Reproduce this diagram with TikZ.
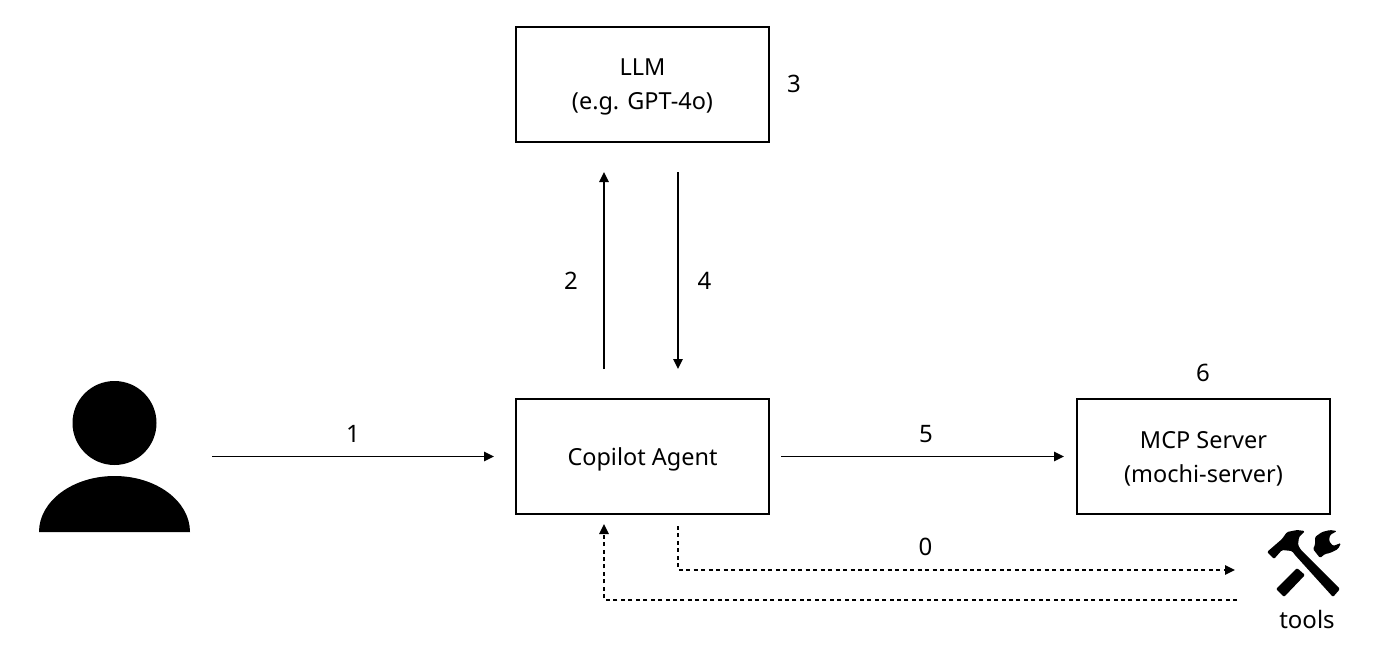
\documentclass[tikz,border=0pt]{standalone}
\usepackage{fontspec}
\setmainfont{Noto Sans}
\usetikzlibrary{arrows.meta,positioning}
\tikzset{
    every picture/.style={
        x=.75pt,y=-.75pt,line width=1.5pt,
        >={Triangle[length=7.5pt,width=7pt]},
        box/.style={draw,minimum width=189.75pt,minimum height=86.25pt,align=center,outer sep=0pt,inner sep=0pt,text depth=0pt,font=\fontsize{17.6}{25.5}\selectfont},
        num/.style={inner sep=0pt,font=\fontsize{18}{20}\selectfont},
        icon/.style={minimum width=55.5pt,minimum height=52.5pt,inner sep=0pt,outer sep=0pt},
        user/.style={minimum size=113.25pt,inner sep=0pt,outer sep=0pt},
        flow/.style={->,line width=1.35pt},
        back/.style={flow,dash pattern=on 3pt off 2.6pt}
    }
}

\begin{document}
\begin{tikzpicture}
    \useasboundingbox (0,0) rectangle (1390,665);
    \node[box]     (agent) at (642.5,456.5) {Copilot Agent};
    \node[box]     (llm)   [above=192.75pt of agent] {LLM\\(e.g. GPT-4o)};
    \node[box]     (mcp)   [right=231pt of agent] {MCP Server\\(mochi-server)};
    \node[user]    (person) at (114.5,456.5) {};
    \node[icon]    (hammer) at (1304,562) {};
    \node[num]     (tools) at (1307,619) {tools};
    \node[num]     (three) at (794,84) {3};
    \node[num]     (six)   at (1203,373) {6};
    % person
    \fill (114.5,423) circle (31.5pt);
    \fill (39,532) arc[start angle=180,end angle=0,x radius=75.5,y radius=-56] -- cycle;
    % hammer and wrench
    \fill[rounded corners=1pt] (1267,552) -- (1282,539) -- (1287,532) -- (1297,530) -- (1305,531) -- (1299,537) -- (1298,545) -- (1301,550) -- (1340,589) -- (1333,597) -- (1295,555) -- (1292,551) -- (1282,550) -- (1274,559) -- cycle;
    \fill[rounded corners=1pt] (1276,589) -- (1297,568) -- (1305,575) -- (1284,597) -- cycle;
    \fill[rounded corners=1pt] (1337,531) -- (1330,535) -- (1329,541) -- (1333,546) -- (1341,543) -- (1338,549) -- (1330,553) -- (1325,554) -- (1320,558) -- (1313,549) -- (1315,545) -- (1315,537) -- (1322,532) -- (1330,530) -- cycle;
    % connectors
    \path[flow,shorten <=16.5pt,shorten >=16.5pt]
             (person) edge node[num,above=10pt] {1} (agent);
    \path[flow,shorten <=9pt,shorten >=9.75pt]
             (agent) edge node[num,above=10pt,pos=.51] {5} (mcp);
    \path[flow,shorten <=22.5pt,shorten >=22.5pt]
             ([xshift=-28.875pt]agent.north) edge node[num,left=19pt,pos=.46] {2} ([xshift=-28.875pt]llm.south)
             ([xshift=26.625pt]llm.south) edge node[num,right=14pt,pos=.54] {4} ([xshift=26.625pt]agent.north);
    \draw[back,shorten <=9pt,shorten >=24pt]
             ([xshift=26.625pt]agent.south) |- node[num,above=10pt,pos=.71] {0} ([yshift=-6pt]hammer.west);
    \draw[back,shorten <=22.5pt,shorten >=7.5pt]
             ([yshift=-28.5pt]hammer.west) -| ([xshift=-28.875pt]agent.south);
\end{tikzpicture}
\end{document}
